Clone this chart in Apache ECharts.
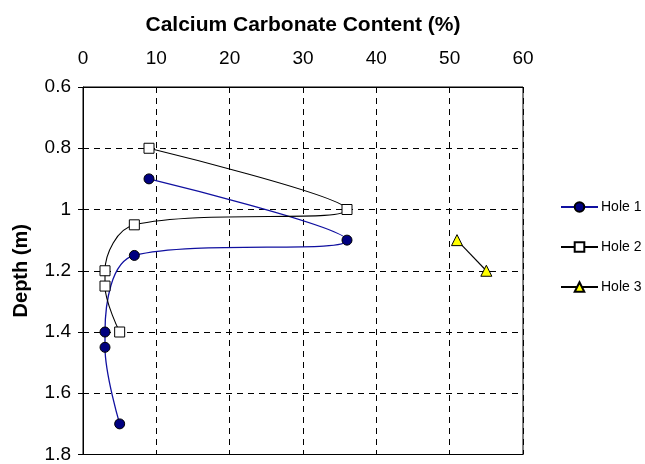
<!DOCTYPE html>
<html>
<head>
<meta charset="utf-8">
<script src="https://cdn.jsdelivr.net/npm/echarts@6/dist/echarts.min.js"></script>
<style>
html,body{margin:0;padding:0;background:#fff;}
#c{width:645px;height:464px;}
</style>
</head>
<body>
<div id="c"></div>
<script>
const xTicks = [0, 10, 20, 30, 40, 50, 60];
const yTicks = [0.6, 0.8, 1.0, 1.2, 1.4, 1.6, 1.8];
const seriesNames = ['Hole 1', 'Hole 2', 'Hole 3'];
const hole1Caco3 = [9, 36, 7, 3, 3, 5];
const hole1Depth = [0.9, 1.1, 1.15, 1.4, 1.45, 1.7];
const hole2Caco3 = [9, 36, 7, 3, 3, 5];
const hole2Depth = [0.8, 1.0, 1.05, 1.2, 1.25, 1.4];
const hole3Caco3 = [51, 55];
const hole3Depth = [1.1, 1.2];

const zip = (a, b) => a.map((v, i) => [v, b[i]]);
const FONT = 'Liberation Sans, Arial, sans-serif';

const chart = echarts.init(document.getElementById('c'), null, {renderer: 'canvas'});
chart.setOption({
  animation: false,
  backgroundColor: '#fff',
  textStyle: {fontFamily: FONT},
  grid: {left: 83, right: 122, top: 87, bottom: 7, show: true, borderColor: '#000', borderWidth: 1, containLabel: false},
  legend: {
    orient: 'vertical', left: 555, top: 195, itemGap: 26,
    itemWidth: 37, itemHeight: 12,
    textStyle: {fontFamily: FONT, fontSize: 14, color: '#000', padding: [0, 0, 0, -2]},
    data: seriesNames
  },
  xAxis: {
    type: 'value', position: 'top', min: xTicks[0], max: xTicks[xTicks.length - 1], interval: 10,
    name: 'Calcium Carbonate Content (%)', nameLocation: 'middle', nameGap: 51,
    nameTextStyle: {fontFamily: FONT, fontSize: 21, fontWeight: 'bold', color: '#000'},
    axisLine: {show: true, lineStyle: {color: '#000', width: 1}},
    axisTick: {show: false},
    axisLabel: {fontFamily: FONT, fontSize: 19, color: '#000', margin: 19},
    splitLine: {show: true, lineStyle: {color: '#000', type: [6, 5], width: 1}}
  },
  yAxis: {
    type: 'value', inverse: true, min: yTicks[0], max: yTicks[yTicks.length - 1], interval: 0.2,
    name: 'Depth (m)', nameLocation: 'middle', nameGap: 52, nameRotate: 90,
    nameTextStyle: {fontFamily: FONT, fontSize: 20, fontWeight: 'bold', color: '#000'},
    axisLine: {show: true, lineStyle: {color: '#000', width: 1}},
    axisTick: {show: true, inside: false, length: 5, lineStyle: {color: '#000'}},
    axisLabel: {fontFamily: FONT, fontSize: 19, color: '#000', margin: 12,
      formatter: v => String(parseFloat(v.toFixed(1)))},
    splitLine: {show: true, lineStyle: {color: '#000', type: [6, 5], width: 1}}
  },
  series: [
    {
      name: seriesNames[0], type: 'line', smooth: 0.35,
      data: zip(hole1Caco3, hole1Depth),
      symbol: 'circle', symbolSize: 10,
      lineStyle: {color: '#1010A0', width: 1.3},
      itemStyle: {color: '#000080', borderColor: '#000', borderWidth: 1}
    },
    {
      name: seriesNames[1], type: 'line', smooth: 0.35,
      data: zip(hole2Caco3, hole2Depth),
      symbol: 'rect', symbolSize: 10,
      lineStyle: {color: '#000', width: 1.1},
      itemStyle: {color: '#fff', borderColor: '#000', borderWidth: 1}
    },
    {
      name: seriesNames[2], type: 'line',
      data: zip(hole3Caco3, hole3Depth),
      symbol: 'triangle', symbolSize: 11,
      lineStyle: {color: '#000', width: 1.1},
      itemStyle: {color: '#ffff00', borderColor: '#000', borderWidth: 1}
    }
  ]
});
</script>
</body>
</html>
